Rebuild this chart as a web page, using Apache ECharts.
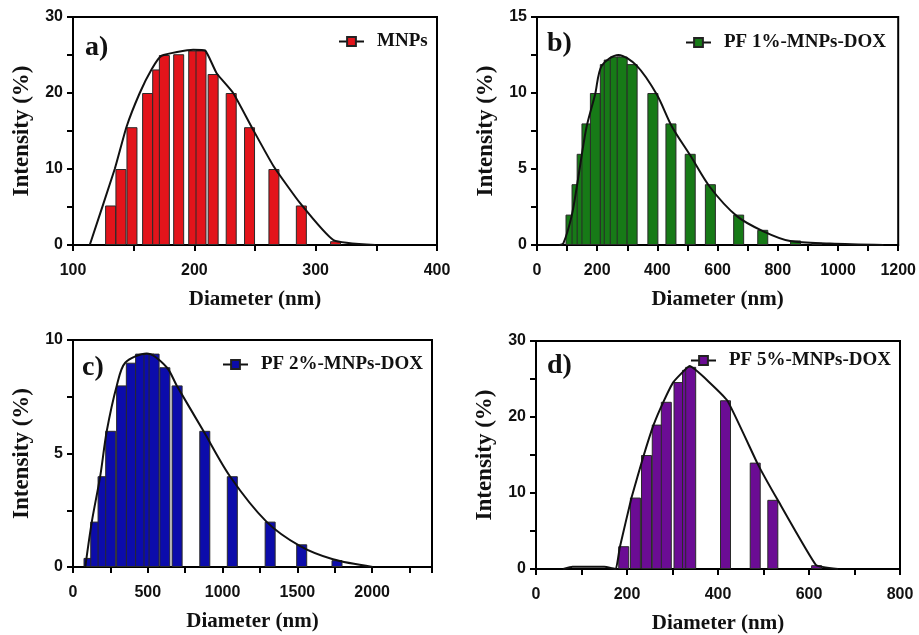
<!DOCTYPE html>
<html><head><meta charset="utf-8">
<script src="https://cdn.jsdelivr.net/npm/echarts@6/dist/echarts.min.js"></script>
<style>html,body{margin:0;padding:0;background:#fff}#c{width:919px;height:635px}</style>
</head><body><div id="c"></div>
<script>
// Panel a) MNPs
const aBarX = [131,139.5,148.6,161.5,169.8,175.3,187.1,199.5,205.5,215.5,230.4,245.5,265.6,288.2,316.4];
const aBarY = [5.2,10,15.5,20,23.1,25,25.1,25.6,25.6,22.5,20,15.5,10,5.2,0.5];
const aLineX = [113.8,134.4,144,155,164.7,173,199,208.8,218.4,232,247.3,265.2,287.2,314.7,349];
const aLineY = [0,10,15.5,20,23.1,24.9,25.7,25.6,22.6,20,15.5,10.4,5.5,0.65,0];
// Panel b) PF 1%-MNPs-DOX
const bBarX = [113,133,150,166,194,227,240,260,283,316,385,445,509,576,670,750,859,930];
const bBarY = [2,4,6,8,10,11.9,12.2,12.4,12.4,11.9,10,8,6,4,2,1,0.3,0.15];
const bLineX = [75,87.5,115,132,148.5,165,193,215,270.5,331,398,448,509,575,664,752,841,974,1151];
const bLineY = [0,0.1,1.9,3.8,5.9,7.8,9.9,11.8,12.5,11.8,9.9,7.8,5.9,3.8,1.9,0.9,0.26,0.1,0];
// Panel c) PF 2%-MNPs-DOX
const cBarX = [107,152,201,252,325,390,452,508,542,614,696,881,1065,1318,1529,1765];
const cBarY = [0.4,2,4,6,8,9,9.4,9.4,9.4,8.8,8,6,4,2,1,0.3];
const cLineX = [82,126,182,226,293,349,493,626,693,871,1049,1293,1516,1738,2004];
const cLineY = [0,2,4,6,8,9,9.4,8.8,8,6,4,2,0.93,0.34,0];
// Panel d) PF 5%-MNPs-DOX
const dBarX = [192.8,218.5,242.9,266.5,286.4,314.3,333,340,416.5,481.8,520.5,616.7];
const dBarY = [3,9.4,15,19,22,24.6,26.2,26.6,22.2,14,9.1,0.5];
const dLineX = [60,80,150,175.4,184,210,236,258,280,302,337.6,420,486.6,531,615.6,663.6];
const dLineY = [0,0.3,0.3,0,2.8,9.4,14.8,18.9,22,24.6,26.7,22.2,13.9,9.1,0.5,0];

const names = ['MNPs','PF 1%-MNPs-DOX','PF 2%-MNPs-DOX','PF 5%-MNPs-DOX'];
const tags = ['a)','b)','c)','d)'];
const colors = ['#e3141b','#177a17','#0c0cab','#6b0c94'];

const xMin = [100,0,0,0], xMax = [400,1200,2400,800], xStep = [50,100,250,100], xLab = [100,200,500,200];
const yMax = [30,15,10,30], yStep = [5,2.5,2.5,5], yLab = [10,5,5,10];
const grids = [
  {left:73, top:17, width:364, height:228},
  {left:537, top:17, width:362, height:228},
  {left:73, top:340, width:359, height:227},
  {left:536, top:341, width:364, height:230}
];
const smoothness = [0.15,0.3,0.3,0.1];
const bars = [[aBarX,aBarY],[bBarX,bBarY],[cBarX,cBarY],[dBarX,dBarY]];
const lines = [[aLineX,aLineY],[bLineX,bLineY],[cLineX,cLineY],[dLineX,dLineY]];
const legendPos = [{left:338,top:32},{left:685,top:33},{left:222,top:355},{left:690,top:351}];
const tagPos = [[85,48],[547,44],[82,368],[547,366]];

const pair = (xs, ys) => xs.map((x, i) => [x, ys[i]]);
const tickFont = {fontFamily:'Liberation Sans, Arial, sans-serif', fontWeight:'bold', fontSize:16, color:'#111'};
const xTitleFont = {fontFamily:'Liberation Serif, Times New Roman, serif', fontWeight:'bold', fontSize:21, color:'#111'};
const yTitleFont = {fontFamily:'Liberation Serif, Times New Roman, serif', fontWeight:'bold', fontSize:23, color:'#111'};

const option = {
  animation:false,
  backgroundColor:'#fff',
  grid: grids.map(g => Object.assign({show:true, borderColor:'#000', borderWidth:2, backgroundColor:'transparent'}, g)),
  xAxis: grids.map((g,i) => ({
    type:'value', gridIndex:i, min:xMin[i], max:xMax[i], interval:xStep[i],
    name:'Diameter (nm)', nameLocation:'middle', nameGap:44, nameTextStyle:xTitleFont,
    splitLine:{show:false},
    axisLine:{show:true, onZero:false, lineStyle:{color:'#000', width:2}},
    axisTick:{show:true, length:6, lineStyle:{color:'#000', width:2}},
    axisLabel:Object.assign({margin:18, showMaxLabel:true, formatter: v => (Math.abs(v % xLab[i]) < 1e-6 ? String(v) : '')}, tickFont)
  })),
  yAxis: grids.map((g,i) => ({
    type:'value', gridIndex:i, min:0, max:yMax[i], interval:yStep[i],
    name:'Intensity (%)', nameLocation:'middle', nameGap:39, nameTextStyle:yTitleFont,
    splitLine:{show:false},
    axisLine:{show:true, onZero:false, lineStyle:{color:'#000', width:2}},
    axisTick:{show:true, length:6, lineStyle:{color:'#000', width:2}},
    axisLabel:Object.assign({margin:10, formatter: v => (Math.abs(v % yLab[i]) < 1e-6 ? String(v) : '')}, tickFont)
  })),
  legend: names.map((n,i) => ({
    data:[n], left:legendPos[i].left, top:legendPos[i].top, padding:0,
    itemWidth:25, itemHeight:11, itemGap:0,
    textStyle:{fontFamily:'Liberation Serif, Times New Roman, serif', fontWeight:'bold', fontSize:19, color:'#111', padding:[0,0,0,8]}
  })),
  graphic: tags.map((t,i) => ({
    type:'text', x:tagPos[i][0], y:tagPos[i][1],
    style:{text:t, font:'bold 28px "Liberation Serif", serif', fill:'#111', textAlign:'left', textVerticalAlign:'middle'}
  })),
  series: []
};
names.forEach((n,i) => {
  option.series.push({
    name:n+' bars', type:'bar', xAxisIndex:i, yAxisIndex:i,
    data: pair(bars[i][0], bars[i][1]), barWidth:11,
    itemStyle:{color:colors[i], borderColor:'#2a2a2a', borderWidth:1}
  });
  option.series.push({
    name:n, type:'line', xAxisIndex:i, yAxisIndex:i,
    data: pair(lines[i][0], lines[i][1]), smooth:smoothness[i],
    symbol:'rect', symbolSize:11, showSymbol:false,
    lineStyle:{color:'#111', width:2},
    itemStyle:{color:colors[i], borderColor:'#222', borderWidth:1},
    z:5
  });
});
const chart = echarts.init(document.getElementById('c'), null, {renderer:'canvas'});
chart.setOption(option);
</script></body></html>
